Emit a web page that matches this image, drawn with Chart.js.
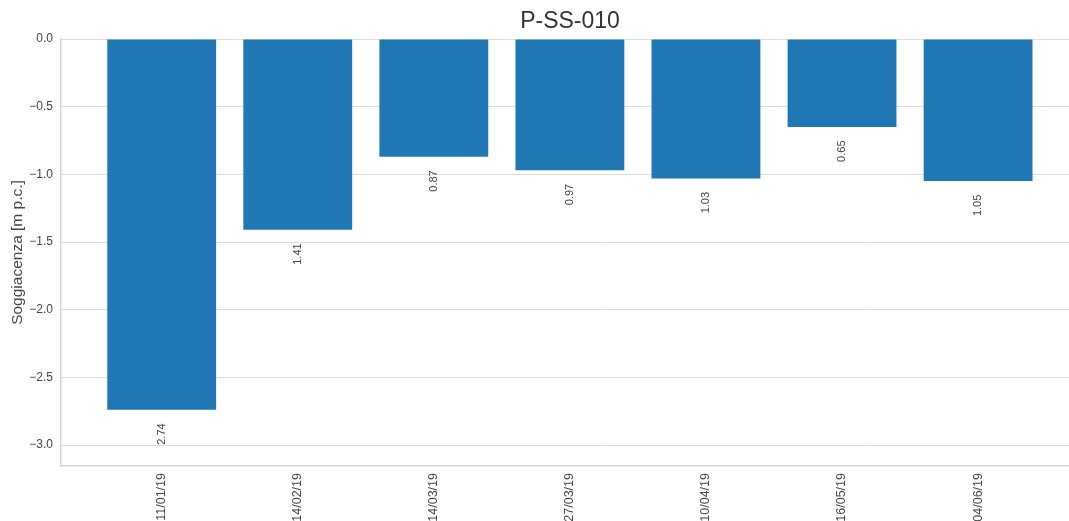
<!DOCTYPE html>
<html>
<head>
<meta charset="utf-8">
<script src="https://cdn.jsdelivr.net/npm/chart.js@4"></script>
<style>
html,body{margin:0;padding:0;background:#fff;overflow:hidden;width:1069px;height:521px;}
#wrap{width:1140px;height:540px;}
</style>
</head>
<body>
<div id="wrap"><canvas id="c" width="1140" height="540" style="width:1140px;height:540px"></canvas></div>
<script>
const chartTitle = "P-SS-010";
const yAxisTitle = "Soggiacenza [m p.c.]";
const dates = ["11/01/19","14/02/19","14/03/19","27/03/19","10/04/19","16/05/19","04/06/19"];
const depths = [-2.74, -1.41, -0.87, -0.97, -1.03, -0.65, -1.05];
const yTickValues = [0.0, -0.5, -1.0, -1.5, -2.0, -2.5, -3.0];
const yTickLabels = ["0.0", "\u22120.5", "\u22121.0", "\u22121.5", "\u22122.0", "\u22122.5", "\u22123.0"];

const FONT = "'Liberation Sans', Arial, Helvetica, sans-serif";

const valueLabels = {
  id: 'valueLabels',
  afterDatasetsDraw(chart) {
    const ctx = chart.ctx;
    const meta = chart.getDatasetMeta(0);
    const ys = chart.scales.y;
    ctx.save();
    ctx.font = "11px " + FONT;
    ctx.fillStyle = "#444";
    meta.data.forEach((bar, i) => {
      const v = depths[i];
      const yTop = ys.getPixelForValue(v - 0.1);
      ctx.save();
      ctx.translate(bar.x, yTop);
      ctx.rotate(-Math.PI / 2);
      ctx.textAlign = 'right';
      ctx.textBaseline = 'middle';
      ctx.fillText(Math.abs(v).toFixed(2), 0, 0);
      ctx.restore();
    });
    ctx.restore();
  }
};

new Chart(document.getElementById('c'), {
  type: 'bar',
  data: {
    datasets: [{
      data: dates.map((d, i) => ({x: i, y: depths[i]})),
      backgroundColor: '#1f77b4',
      borderWidth: 0,
      categoryPercentage: 1.0,
      barPercentage: 0.8
    }]
  },
  options: {
    responsive: false,
    animation: false,
    layout: {padding: 0},
    plugins: {
      legend: {display: false},
      tooltip: {enabled: false},
      title: {
        display: true,
        text: chartTitle,
        color: '#333',
        font: {family: FONT, size: 23, weight: 'normal', lineHeight: 1},
        padding: {top: 10, bottom: 6}
      }
    },
    scales: {
      x: {
        type: 'linear',
        offset: false,
        min: -0.74,
        max: 7.19,
        afterBuildTicks(scale) { scale.ticks = dates.map((d, i) => ({value: i})); },
        afterFit(scale) { scale.height = 540 - 466; },
        grid: {display: false, drawTicks: false},
        border: {display: true, color: '#d4d4d4', width: 1.5},
        ticks: {
          autoSkip: false,
          minRotation: 90,
          maxRotation: 90,
          padding: 7,
          color: '#444',
          font: {family: FONT, size: 12.5},
          callback: (v) => dates[v]
        }
      },
      y: {
        min: -3.155,
        max: 0,
        afterBuildTicks(scale) { scale.ticks = yTickValues.map(v => ({value: v})); },
        afterFit(scale) { scale.width = 61; },
        grid: {color: '#dcdcdc', lineWidth: 1, drawTicks: false},
        border: {display: true, color: '#d4d4d4', width: 1.5},
        title: {
          display: true,
          text: yAxisTitle,
          color: '#444',
          font: {family: FONT, size: 15.5},
          padding: {top: 8, bottom: 0}
        },
        ticks: {
          padding: 8,
          color: '#444',
          font: {family: FONT, size: 12},
          callback: (v) => { const k = yTickValues.indexOf(v); return k >= 0 ? yTickLabels[k] : ''; }
        }
      }
    }
  },
  plugins: [valueLabels]
});
</script>
</body>
</html>
